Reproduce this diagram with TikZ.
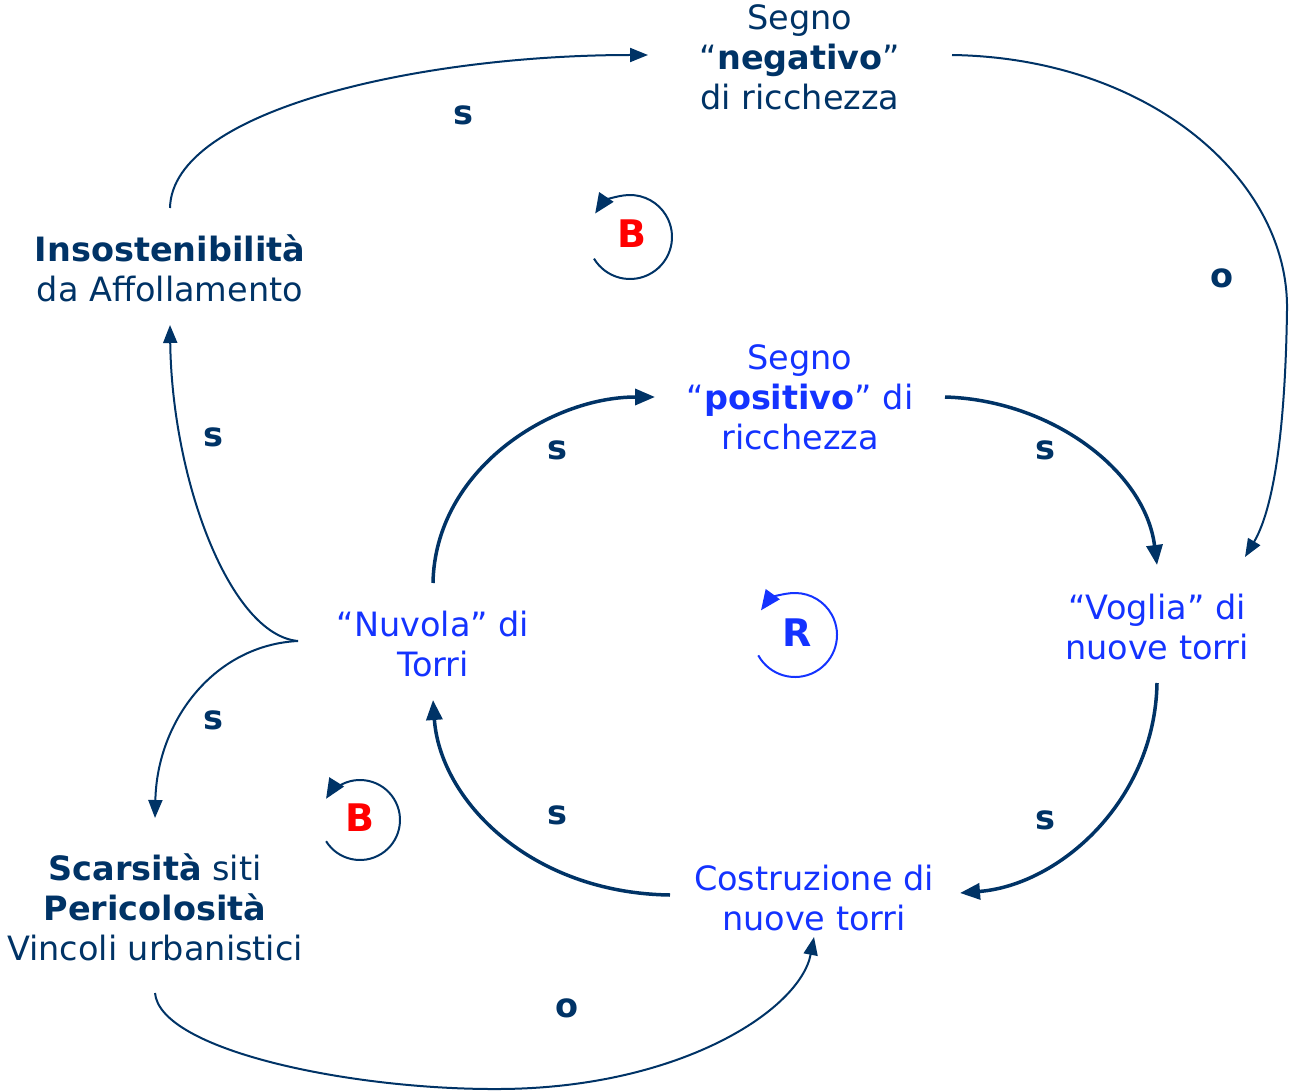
\documentclass[tikz,border=0pt]{standalone}
\usepackage{fontspec}
\setmainfont{DejaVu Sans}
\usetikzlibrary{arrows.meta,calc}
\definecolor{navy}{RGB}{0,51,102}
\definecolor{vivid}{RGB}{20,51,255}
\definecolor{loopred}{RGB}{255,0,0}
\begin{document}
\begin{tikzpicture}[x=1pt,y=-1pt,
  txt/.style={align=center,inner sep=0pt,font=\fontsize{33.5}{40}\selectfont},
  dark/.style={txt,text=navy},
  light/.style={txt,text=vivid},
  pol/.style={inner sep=0pt,text=navy,font=\fontsize{33.5}{40}\selectfont\bfseries},
  loopletter/.style={inner sep=0pt,font=\fontsize{38}{40}\selectfont\bfseries},
  thin link/.style={draw=navy,line width=2pt,-{Triangle[length=18pt,width=14pt]}},
  thick link/.style={draw=navy,line width=3.5pt,-{Triangle[length=20pt,width=16pt]}},
  loop arrow/.style={line width=2pt,-{Triangle[length=20pt,width=17pt]}}
]
\useasboundingbox (0,0) rectangle (1290,1091);

% variables
\node[dark]  (neg)    at (800,57)   {Segno\\“\textbf{negativo}”\\di ricchezza};
\node[dark]  (insost) at (170,268)  {\textbf{Insostenibilità}\\da Affollamento};
\node[light] (pos)    at (800,397)  {Segno\\“\textbf{positivo}” di\\ricchezza};
\node[light] (voglia) at (1157,627) {“Voglia” di\\nuove torri};
\node[light] (nuvola) at (433,644)  {“Nuvola” di\\Torri};
\node[light] (costr)  at (814,898)  {Costruzione di\\nuove torri};
\node[dark]  (scars)  at (155,907)  {\textbf{Scarsità} siti\\\textbf{Pericolosità}\\Vincoli urbanistici};

% reinforcing loop
\draw[thick link] ($(nuvola)+(0,-61)$) .. controls (435,470) and (550,397) .. ($(pos)+(-145,0)$);
\draw[thick link] ($(pos)+(145,0)$) .. controls (1050,400) and (1145,470) .. ($(voglia)+(0,-62)$);
\draw[thick link] ($(voglia)+(0,56)$) .. controls (1155,800) and (1060,885) .. ($(costr)+(146,-5)$);
\draw[thick link] ($(costr)+(-144,-3)$) .. controls (530,893) and (440,800) .. ($(nuvola)+(0,56)$);

% balancing loops
\coordinate (fork) at ($(nuvola)+(-135,-3)$);
\draw[thin link] (fork) .. controls (230,635) and (172,480) .. ($(insost)+(0,57)$);
\draw[thin link] (fork) .. controls (215,645) and (157,720) .. ($(scars)+(0,-89)$);
\draw[thin link] ($(insost)+(0,-60)$) .. controls (172,110) and (420,55) .. ($(neg)+(-152,-2)$);
\draw[thin link] ($(neg)+(152,-2)$) .. controls (1150,58) and (1289,180) .. (1287,310)
  .. controls (1285,450) and (1270,515) .. ($(voglia)+(88,-70)$);
\draw[thin link] ($(scars)+(0,86)$) .. controls (160,1050) and (350,1090) .. (500,1089)
  .. controls (680,1088) and (800,1010) .. ($(costr)+(0,39)$);

% link polarities
\node[pol] (p1) at (463,115)  {s};
\node[pol] (p2) at (1222,278) {o};
\node[pol] (p3) at (1045,450) {s};
\node[pol] (p4) at (1045,820) {s};
\node[pol] (p5) at (557,815)  {s};
\node[pol] (p6) at (557,450)  {s};
\node[pol] (p7) at (213,437)  {s};
\node[pol] (p8) at (213,720)  {s};
\node[pol] (p9) at (567,1008) {o};

% loop markers
\node[loopletter,text=loopred] (bup) at (632,234) {B};
\draw[loop arrow,draw=navy] ($(bup)+(-2,3)+(149:42)$) arc[start angle=149,end angle=-146,radius=42];
\node[loopletter,text=vivid] (rmid) at (797,633) {R};
\draw[loop arrow,draw=vivid] ($(rmid)+(-2,2)+(151:42)$) arc[start angle=151,end angle=-144,radius=42];
\node[loopletter,text=loopred] (blow) at (360,818) {B};
\draw[loop arrow,draw=navy] ($(blow)+(0,2)+(148:40)$) arc[start angle=148,end angle=-148,radius=40];
\end{tikzpicture}
\end{document}
